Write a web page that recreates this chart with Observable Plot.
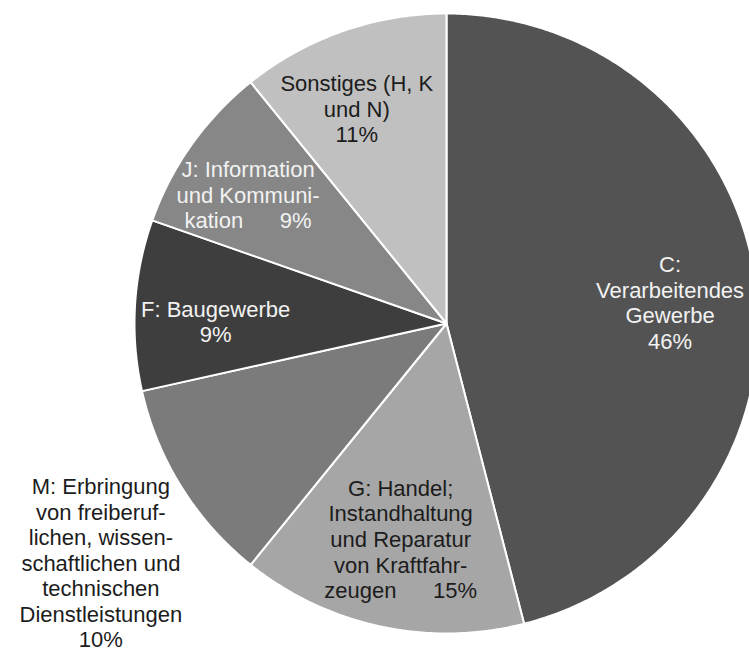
<!DOCTYPE html>
<html>
<head>
<meta charset="utf-8">
<script src="https://cdn.jsdelivr.net/npm/d3@7"></script>
<script src="https://cdn.jsdelivr.net/npm/@observablehq/plot@0.6"></script>
<style>
  html, body { margin: 0; padding: 0; background: #ffffff; }
  #chart svg { display: block; }
</style>
</head>
<body>
<div id="chart"></div>
<script>
// ---- data ----
const sectors = ["C", "G", "M", "F", "J", "S"];
const labels = [
  "C:\nVerarbeitendes\nGewerbe\n46%",
  "G: Handel;\nInstandhaltung\nund Reparatur\nvon Kraftfahr-\nzeugen\u00a0\u00a0\u00a0\u00a0\u00a0\u00a015%",
  "M: Erbringung\nvon freiberuf-\nlichen, wissen-\nschaftlichen und\ntechnischen\nDienstleistungen\n10%",
  "F: Baugewerbe\n9%",
  "J: Information\nund Kommuni-\nkation\u00a0\u00a0\u00a0\u00a0\u00a0\u00a09%",
  "Sonstiges (H, K\nund N)\n11%"
];
const shares = [46.0, 14.8, 10.7, 8.9, 8.8, 10.8];

// ---- styles / layout ----
const sliceColors = ["#535353", "#a6a6a6", "#7b7b7b", "#3e3e3e", "#878787", "#c0c0c0"];
const textColors = ["#f2f2f2", "#1c1c1c", "#1c1c1c", "#f2f2f2", "#f2f2f2", "#1c1c1c"];
const labelRadius = [0.72, 0.71, 1.35, 0.74, 0.76, 0.75];
const labelTurnDeg = [1.7, -0.3, -3.0, -2.9, -2.1, -3.1];

const W = 749, H = 654;
const cx = 446, cy = 323, rx = 312, ry = 310;

// ---- geometry from the data ----
const arcs = d3.pie().sort(null).value(d => d)(shares);
const slicePts = [];
arcs.forEach((a, i) => {
  const key = sectors[i];
  slicePts.push({key, x: 0, y: 0, fill: sliceColors[i]});
  const n = Math.max(2, Math.ceil((a.endAngle - a.startAngle) / (Math.PI / 360)));
  for (let k = 0; k <= n; k++) {
    const t = a.startAngle + (a.endAngle - a.startAngle) * k / n;
    slicePts.push({key, x: Math.sin(t), y: Math.cos(t), fill: sliceColors[i]});
  }
  slicePts.push({key, x: 0, y: 0, fill: sliceColors[i]});
});

const labelData = arcs.map((a, i) => {
  const t = (a.startAngle + a.endAngle) / 2 + labelTurnDeg[i] * Math.PI / 180;
  return {
    x: labelRadius[i] * Math.sin(t),
    y: labelRadius[i] * Math.cos(t),
    text: labels[i],
    fill: textColors[i]
  };
});

const chart = Plot.plot({
  width: W,
  height: H,
  margin: 0,
  style: {background: "#ffffff", fontFamily: "'Liberation Sans', Arial, sans-serif"},
  x: {domain: [-cx / rx, (W - cx) / rx], range: [0, W], axis: null},
  y: {domain: [(cy - H) / ry, cy / ry], range: [H, 0], axis: null},
  color: {type: "identity"},
  marks: [
    Plot.line(slicePts, {
      x: "x", y: "y", z: "key", fill: "fill",
      stroke: "#ffffff", strokeWidth: 2, strokeLinejoin: "round", curve: "linear"
    }),
    Plot.text(labelData, {
      x: "x", y: "y", text: "text", fill: "fill",
      fontSize: 22, lineHeight: 1.16, textAnchor: "middle", lineAnchor: "middle",
      fontFamily: "'Liberation Sans', Arial, sans-serif"
    })
  ]
});
document.getElementById("chart").appendChild(chart);
</script>
</body>
</html>
